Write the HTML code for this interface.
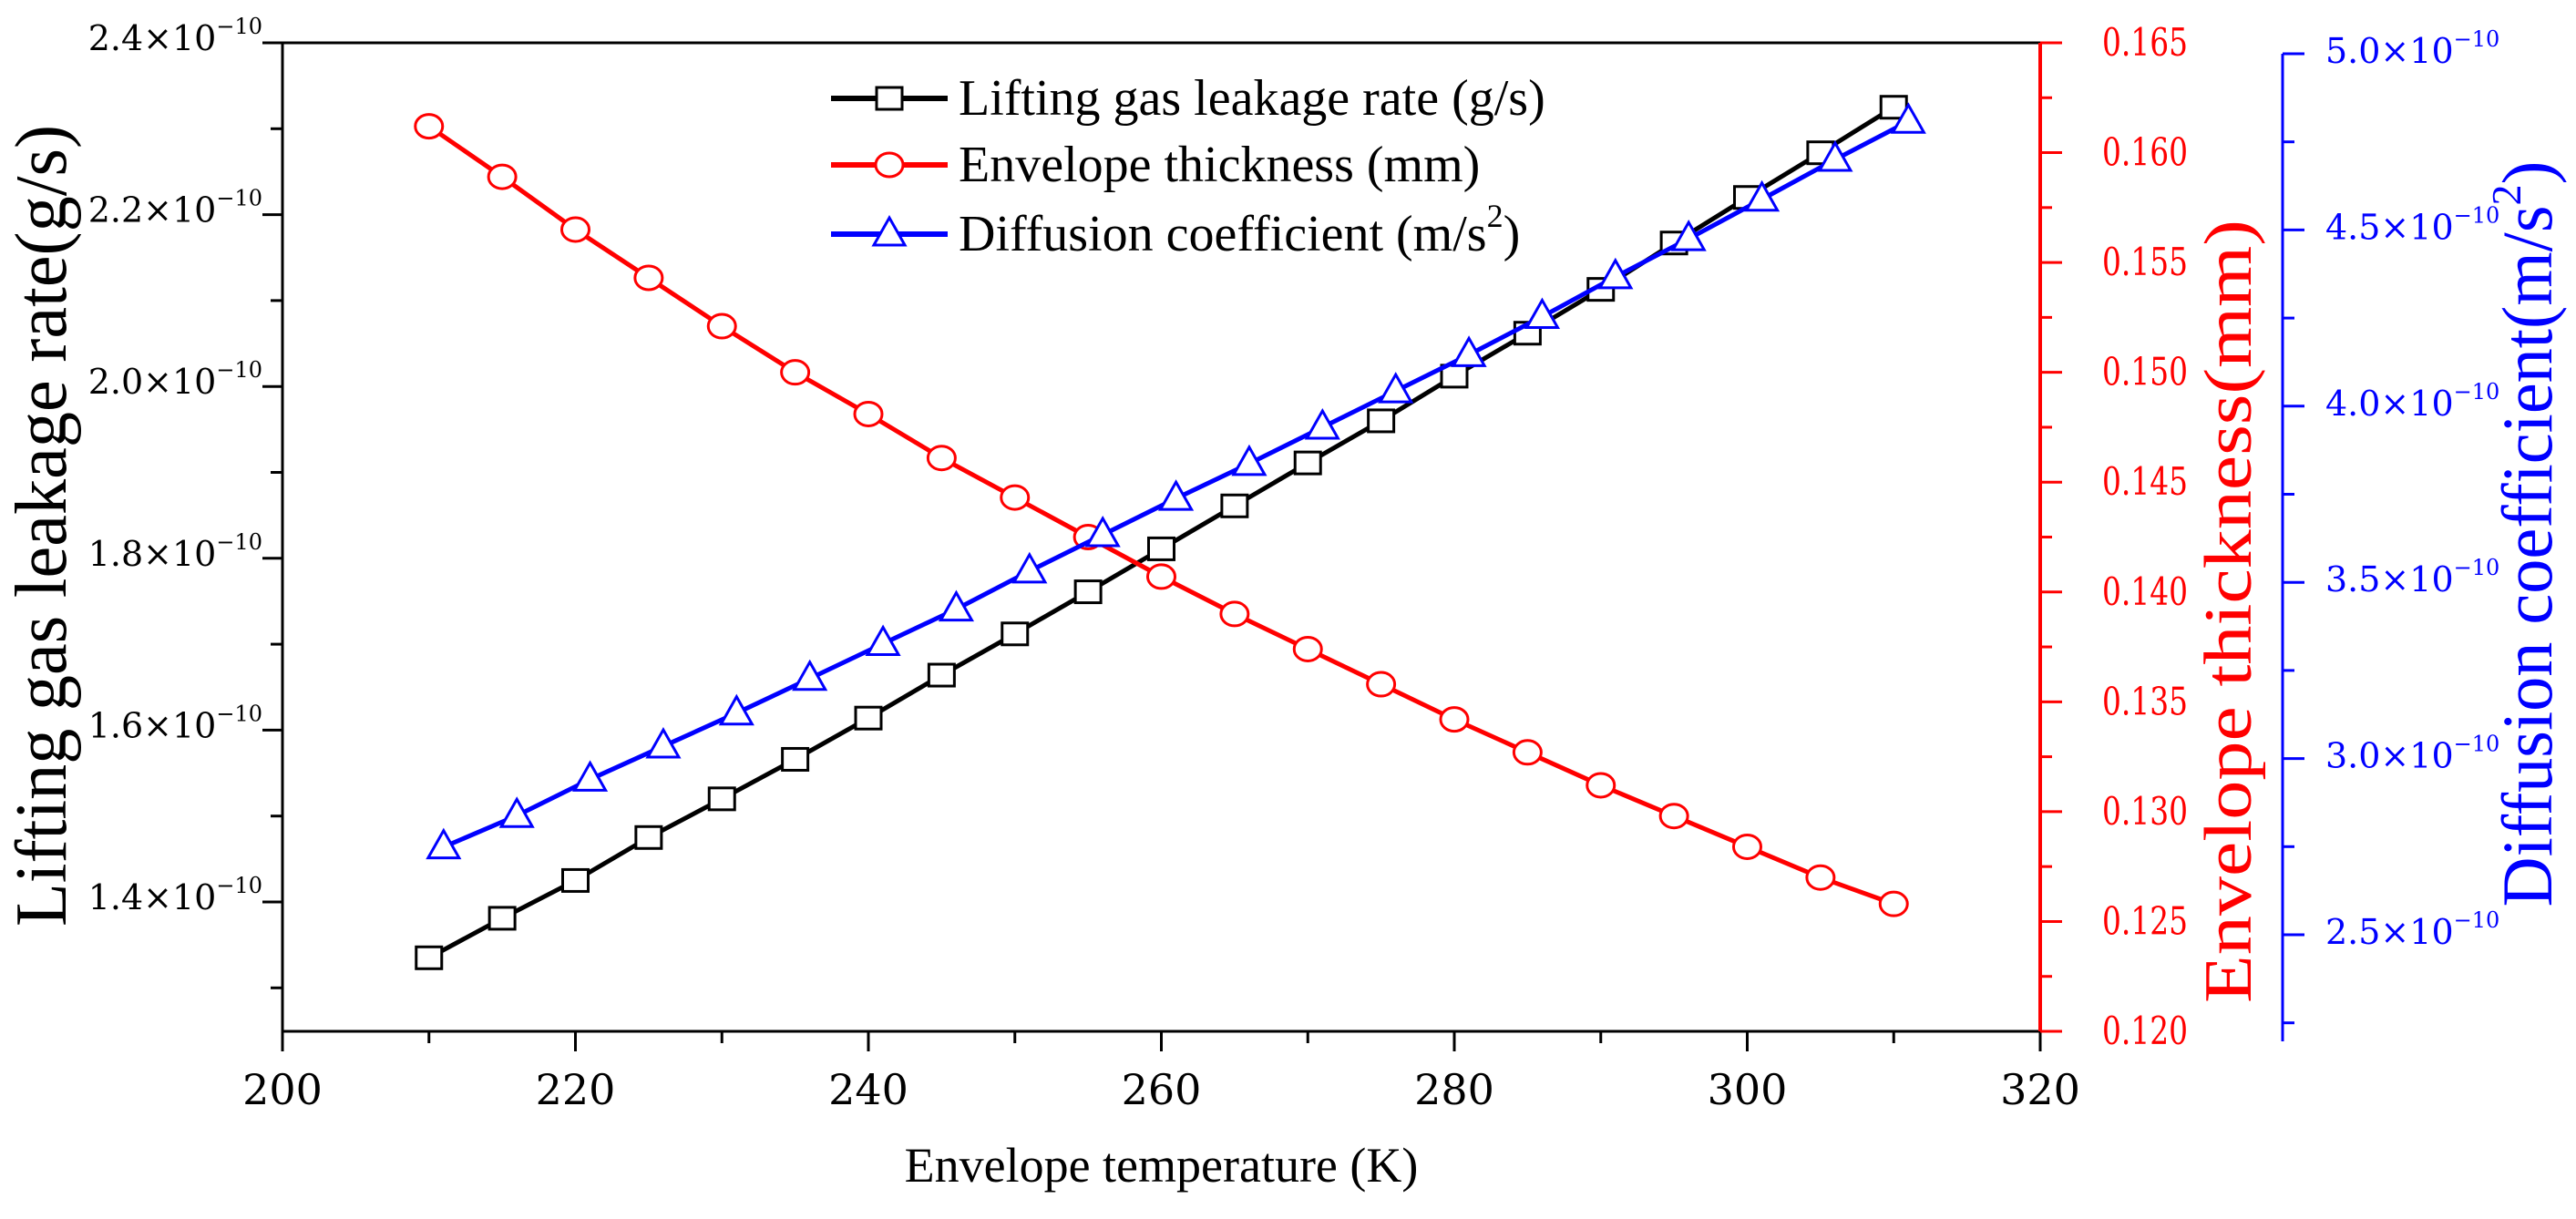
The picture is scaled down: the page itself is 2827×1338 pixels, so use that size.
<!DOCTYPE html>
<html><head><meta charset="utf-8"><style>
html,body{margin:0;padding:0;background:#fff;}
svg{display:block;font-family:"Liberation Serif",serif;}
</style></head><body>
<svg id="chart" width="2827" height="1338" viewBox="0 0 2827 1338" xmlns="http://www.w3.org/2000/svg" font-family="Liberation Serif, serif">
<g id="axes"></g>
<g id="series"></g>
<g id="legend"></g>
</svg>
<script>
const temps = [210,215,220,225,230,235,240,245,250,255,260,265,270,275,280,285,290,295,300,305,310];
const leakRate = [1.335,1.381,1.425,1.475,1.520,1.566,1.614,1.664,1.712,1.761,1.811,1.861,1.911,1.960,2.012,2.062,2.113,2.167,2.220,2.272,2.325];
const thickness = [0.1612,0.1589,0.1565,0.1543,0.1521,0.1500,0.1481,0.1461,0.1443,0.1425,0.1407,0.1390,0.1374,0.1358,0.1342,0.1327,0.1312,0.1298,0.1284,0.1270,0.1258];
const diffTemps = [211,216,221,226,231,236,241,246,251,256,261,266,271,276,281,286,291,296,301,306,311];
const diffusion = [2.749,2.838,2.941,3.035,3.129,3.227,3.326,3.424,3.532,3.635,3.738,3.837,3.940,4.043,4.146,4.254,4.367,4.475,4.587,4.700,4.808];
const xTicks = [200,220,240,260,280,300,320];
const leftTicks = ["1.4","1.6","1.8","2.0","2.2","2.4"];
const redTicks = ["0.120","0.125","0.130","0.135","0.140","0.145","0.150","0.155","0.160","0.165"];
const blueTicks = ["2.5","3.0","3.5","4.0","4.5","5.0"];

const NS="http://www.w3.org/2000/svg";
const SERIF='"Liberation Serif", serif';
const L=310,R=2239,T=47,B=1132,BX=2505,BT=59,BB=1143;
const xs=v=>L+(v-200)*(R-L)/120;
const yL=v=>990-(v-1.4)*943;
const yR=v=>B-(v-0.12)*(B-T)/0.045;
const yB=v=>1026-(v-2.5)*386.8;
function mk(tag,attrs,parent,text){const e=document.createElementNS(NS,tag);for(const k in attrs)e.setAttribute(k,attrs[k]);if(text!==undefined)e.textContent=text;parent.appendChild(e);return e;}
const ax=document.getElementById('axes'),se=document.getElementById('series'),lg=document.getElementById('legend');

let e;
e=mk('line',{x1:L,y1:T,x2:R,y2:T,stroke:'#000','stroke-width':3},ax);


e=mk('line',{x1:L,y1:T,x2:L,y2:B,stroke:'#000','stroke-width':3},ax);


e=mk('line',{x1:L,y1:B,x2:R,y2:B,stroke:'#000','stroke-width':3},ax);


e=mk('line',{x1:R,y1:T,x2:R,y2:B,stroke:'#f00','stroke-width':4},ax);


e=mk('line',{x1:BX,y1:BT,x2:BX,y2:BB,stroke:'#00f','stroke-width':3},ax);



xTicks.forEach((v,i)=>{
  const x=xs(v);
  e=mk('line',{x1:x,y1:B,x2:x,y2:B+22,stroke:'#000','stroke-width':3},ax);
  
  
  if(i<xTicks.length-1){const xm=xs(v+10);e=mk('line',{x1:xm,y1:B,x2:xm,y2:B+13,stroke:'#000','stroke-width':3},ax);
  
  }
  e=mk('text',{x:x,y:B+80,'font-size':46,'text-anchor':'middle',fill:'#000','font-family':'"DejaVu Serif",serif'},ax,String(v));
  
  
});
e=mk('text',{x:(L+R)/2,y:1297,'font-size':54,'text-anchor':'middle',fill:'#000','font-family':SERIF},ax,'Envelope temperature (K)');



function sciLabel(x,y,mant,color,anchorEnd){
  const t=mk('text',{x:x,y:y,'font-size':38,fill:color,'text-anchor':anchorEnd?'end':'start','font-family':'"DejaVu Serif",serif'},ax);
  mk('tspan',{},t,mant+'×10');
  mk('tspan',{'font-size':24,dy:-18},t,'−10');
  return t;
}
for(let v=1.3;v<=2.401;v+=0.1){
  const y=yL(v);const major=Math.round(v*10)%2===0;
  e=mk('line',{x1:L-(major?22:13),y1:y,x2:L,y2:y,stroke:'#000','stroke-width':3},ax);
  
  
}
leftTicks.forEach(s=>{
  const y=yL(parseFloat(s));
  e=sciLabel(288,y+8,s,'#000',true);
  
  
});
e=mk('text',{x:0,y:0,'font-size':80,'text-anchor':'middle',fill:'#000','font-family':SERIF,textLength:880,lengthAdjust:'spacingAndGlyphs',transform:'translate(72,577) rotate(-90)'},ax,'Lifting gas leakage rate(g/s)');



for(let k=0;k<=18;k++){
  const v=0.12+k*0.0025;const y=yR(v);const major=k%2===0;
  e=mk('line',{x1:R,y1:y,x2:R+(major?24:13),y2:y,stroke:'#f00','stroke-width':3},ax);
  
  
}
redTicks.forEach(s=>{
  e=mk('text',{x:R+68,y:yR(parseFloat(s))+14,'font-size':42,fill:'#f00','font-family':'"DejaVu Serif",serif',textLength:94,lengthAdjust:'spacingAndGlyphs'},ax,s);
  
  
});
e=mk('text',{x:0,y:0,'font-size':74,'text-anchor':'middle',fill:'#f00','font-family':SERIF,textLength:860,lengthAdjust:'spacingAndGlyphs',transform:'translate(2470,671) rotate(-90)'},ax,'Envelope thickness(mm)');



for(let k=0;k<=11;k++){
  const v=2.25+k*0.25;const y=yB(v);const major=k%2===1;
  e=mk('line',{x1:BX,y1:y,x2:BX+(major?24:13),y2:y,stroke:'#00f','stroke-width':3},ax);
  
  
}
blueTicks.forEach(s=>{
  e=sciLabel(2552,yB(parseFloat(s))+10,s,'#00f',false);
  
  
});
{
  const t=mk('text',{x:0,y:0,'font-size':78,'text-anchor':'middle',fill:'#00f','font-family':SERIF,transform:'translate(2800,586) rotate(-90)'},ax);
  mk('tspan',{textLength:770,lengthAdjust:'spacingAndGlyphs'},t,'Diffusion coefficient(m/s');
  mk('tspan',{'font-size':46,dy:-34},t,'2');
  mk('tspan',{dy:34},t,')');
  
  
}

function marker(type,x,y,color,g){
  let m;
  if(type==='sq') m=mk('rect',{x:x-14,y:y-12,width:28,height:24,fill:'#fff',stroke:color,'stroke-width':3},g);
  else if(type==='ci') m=mk('ellipse',{cx:x,cy:y,rx:15,ry:13,fill:'#fff',stroke:color,'stroke-width':3},g);
  else m=mk('polygon',{points:`${x},${y-18} ${x+17},${y+12} ${x-17},${y+12}`,fill:'#fff',stroke:color,'stroke-width':3},g);
  return m;
}
function series(name,xv,yv,ymap,color,type){
  const g=mk('g',{},se);
  
  
  const pts=xv.map((v,i)=>xs(v)+','+ymap(yv[i])).join(' ');
  const pl=mk('polyline',{points:pts,fill:'none',stroke:color,'stroke-width':5},g);
  
  
  xv.forEach((v,i)=>{const m=marker(type,xs(v),ymap(yv[i]),color,g);
    
    });
}
series('leakage-rate-series',temps,leakRate,yL,'#000','sq');
series('thickness-series',temps,thickness,yR,'#f00','ci');
series('diffusion-series',diffTemps,diffusion,yB,'#00f','tr');

const leg=[['Lifting gas leakage rate (g/s)','#000','sq',108],['Envelope thickness (mm)','#f00','ci',181],['Diffusion coefficient (m/s','#00f','tr',257]];
leg.forEach((d,i)=>{
  const g=mk('g',{},lg);
  
  
  mk('line',{x1:912,y1:d[3],x2:1040,y2:d[3],stroke:d[1],'stroke-width':6},g);
  marker(d[2],976,d[3],d[1],g);
  const t=mk('text',{x:1052,y:d[3]+18,'font-size':56,fill:'#000','font-family':SERIF},g);
  mk('tspan',{},t,d[0]);
  if(i===2){mk('tspan',{'font-size':36,dy:-26},t,'2');mk('tspan',{dy:26},t,')');}
  
  
});
</script>
</body></html>
